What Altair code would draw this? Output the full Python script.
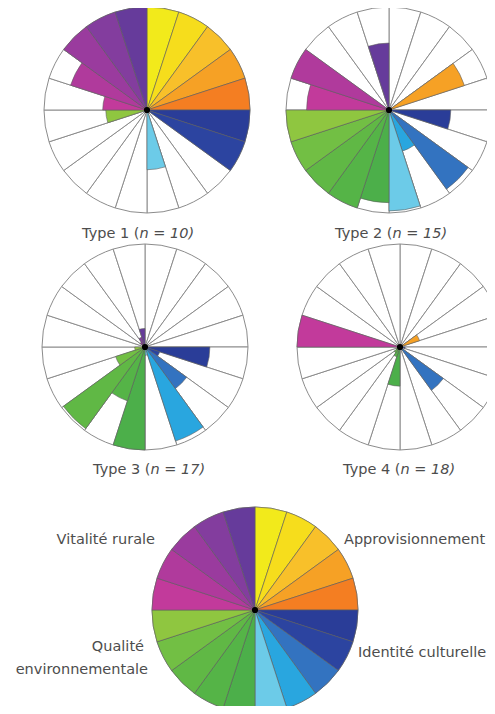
import math
import altair as alt
import pandas as pd

# ---- data -------------------------------------------------------------
sector_names = (
    [f"Approvisionnement {k}" for k in range(1, 6)]
    + [f"Identité culturelle {k}" for k in range(1, 6)]
    + [f"Qualité environnementale {k}" for k in range(1, 6)]
    + [f"Vitalité rurale {k}" for k in range(1, 6)]
)
sector_colors = [
    "#f2ea1b", "#f6dd1c", "#f8c02a", "#f6a125", "#f47e22",
    "#2a3d98", "#2c44a0", "#3373c0", "#29a6df", "#6ccbe8",
    "#4caf4a", "#55b447", "#60b845", "#72bf44", "#8fc640",
    "#c23a9b", "#b03a9c", "#9a3b9e", "#833d9e", "#663b9b",
]

type1 = [1, 1, 1, 1, 1, 1, 1, 0, 0, 0.58, 0, 0, 0, 0, 0.40, 0.43, 0.78, 1, 1, 1]
type2 = [0, 0, 0, 0.77, 0, 0.60, 0, 0.95, 0.42, 0.98, 0.90, 1, 1, 1, 1, 0.80, 1, 0, 0, 0.65]
type3 = [0, 0, 0, 0, 0, 0.63, 0.15, 0.50, 0.96, 0.08, 1.0, 0.55, 0.98, 0.30, 0.10, 0, 0, 0.06, 0.10, 0.18]
type4 = [0, 0, 0, 0.20, 0, 0.05, 0, 0.52, 0, 0, 0.38, 0.10, 0.07, 0.04, 0, 1.0, 0, 0, 0, 0]
legend_vals = [1] * 20

titles = [("Type 1 (", "n = 10)"), ("Type 2 (", "n = 15)"),
          ("Type 3 (", "n = 17)"), ("Type 4 (", "n = 18)")]
legend_labels = ["Vitalité rurale", "Approvisionnement", "Qualité",
                 "environnementale", "Identité culturelle"]

# ---- layout / style ---------------------------------------------------
R = 103
FONT = "DejaVu Sans"
FS = 14.5
TXT = "#4d4d4d"

theta_scale = alt.Scale(domain=[0, 20], range=[0, 2 * math.pi])
radius_scale = alt.Scale(type="linear", domain=[0, 1], range=[0, R])
color_scale = alt.Scale(domain=sector_names, range=sector_colors)


def frame(values):
    return pd.DataFrame({
        "sector": sector_names,
        "i": list(range(20)),
        "j": [k + 1 for k in range(20)],
        "v": values,
    })


def wheel(values, cx, cy):
    df = frame(values)
    base_df = frame([1] * 20)
    grid = alt.Chart(base_df).mark_arc(
        fill="white", stroke="#8c8c8c", strokeWidth=1
    ).encode(
        theta=alt.Theta("i:Q", scale=theta_scale),
        theta2="j:Q",
        radius=alt.Radius("v:Q", scale=radius_scale),
        x=alt.value(cx), y=alt.value(cy),
    )
    bars = alt.Chart(df[df.v > 0]).mark_arc(
        stroke="#5e5e5e", strokeWidth=0.7, strokeOpacity=0.85
    ).encode(
        theta=alt.Theta("i:Q", scale=theta_scale),
        theta2="j:Q",
        radius=alt.Radius("v:Q", scale=radius_scale),
        color=alt.Color("sector:N", scale=color_scale, legend=None),
        x=alt.value(cx), y=alt.value(cy),
    )
    dot = alt.Chart(pd.DataFrame({"k": [0]})).mark_point(
        filled=True, color="black", size=38, opacity=1
    ).encode(x=alt.value(cx), y=alt.value(cy))
    return [grid, bars, dot]


def title(parts, cx, cy):
    left, right = parts
    split = cx + 2.5
    a = alt.Chart(pd.DataFrame({"t": [left]})).mark_text(
        font=FONT, fontSize=FS, color=TXT, align="right", baseline="middle"
    ).encode(text="t:N", x=alt.value(split), y=alt.value(cy))
    b = alt.Chart(pd.DataFrame({"t": [right]})).mark_text(
        font=FONT, fontSize=FS, color=TXT, align="left", baseline="middle",
        fontStyle="italic"
    ).encode(text="t:N", x=alt.value(split), y=alt.value(cy))
    return [a, b]


def label(text, x, y, align):
    return alt.Chart(pd.DataFrame({"t": [text]})).mark_text(
        font=FONT, fontSize=FS, color=TXT, align=align, baseline="middle"
    ).encode(text="t:N", x=alt.value(x), y=alt.value(y))


layers = []
layers += wheel(type1, 139, 102)
layers += wheel(type2, 381, 102)
layers += wheel(type3, 137, 339)
layers += wheel(type4, 392, 339)
layers += wheel(legend_vals, 247, 602)
layers += title(titles[0], 129, 226)
layers += title(titles[1], 382, 226)
layers += title(titles[2], 140, 462)
layers += title(titles[3], 390, 462)
layers.append(label(legend_labels[0], 147, 532, "right"))
layers.append(label(legend_labels[1], 336, 532, "left"))
layers.append(label(legend_labels[2], 136, 639, "right"))
layers.append(label(legend_labels[3], 140, 662, "right"))
layers.append(label(legend_labels[4], 350, 645, "left"))

chart = alt.layer(*layers).properties(
    width=479, height=698, padding=0,
    autosize=alt.AutoSizeParams(type="none"),
).configure_view(stroke=None)

chart.save("out.html", embed_options={"renderer": "svg", "actions": False})
